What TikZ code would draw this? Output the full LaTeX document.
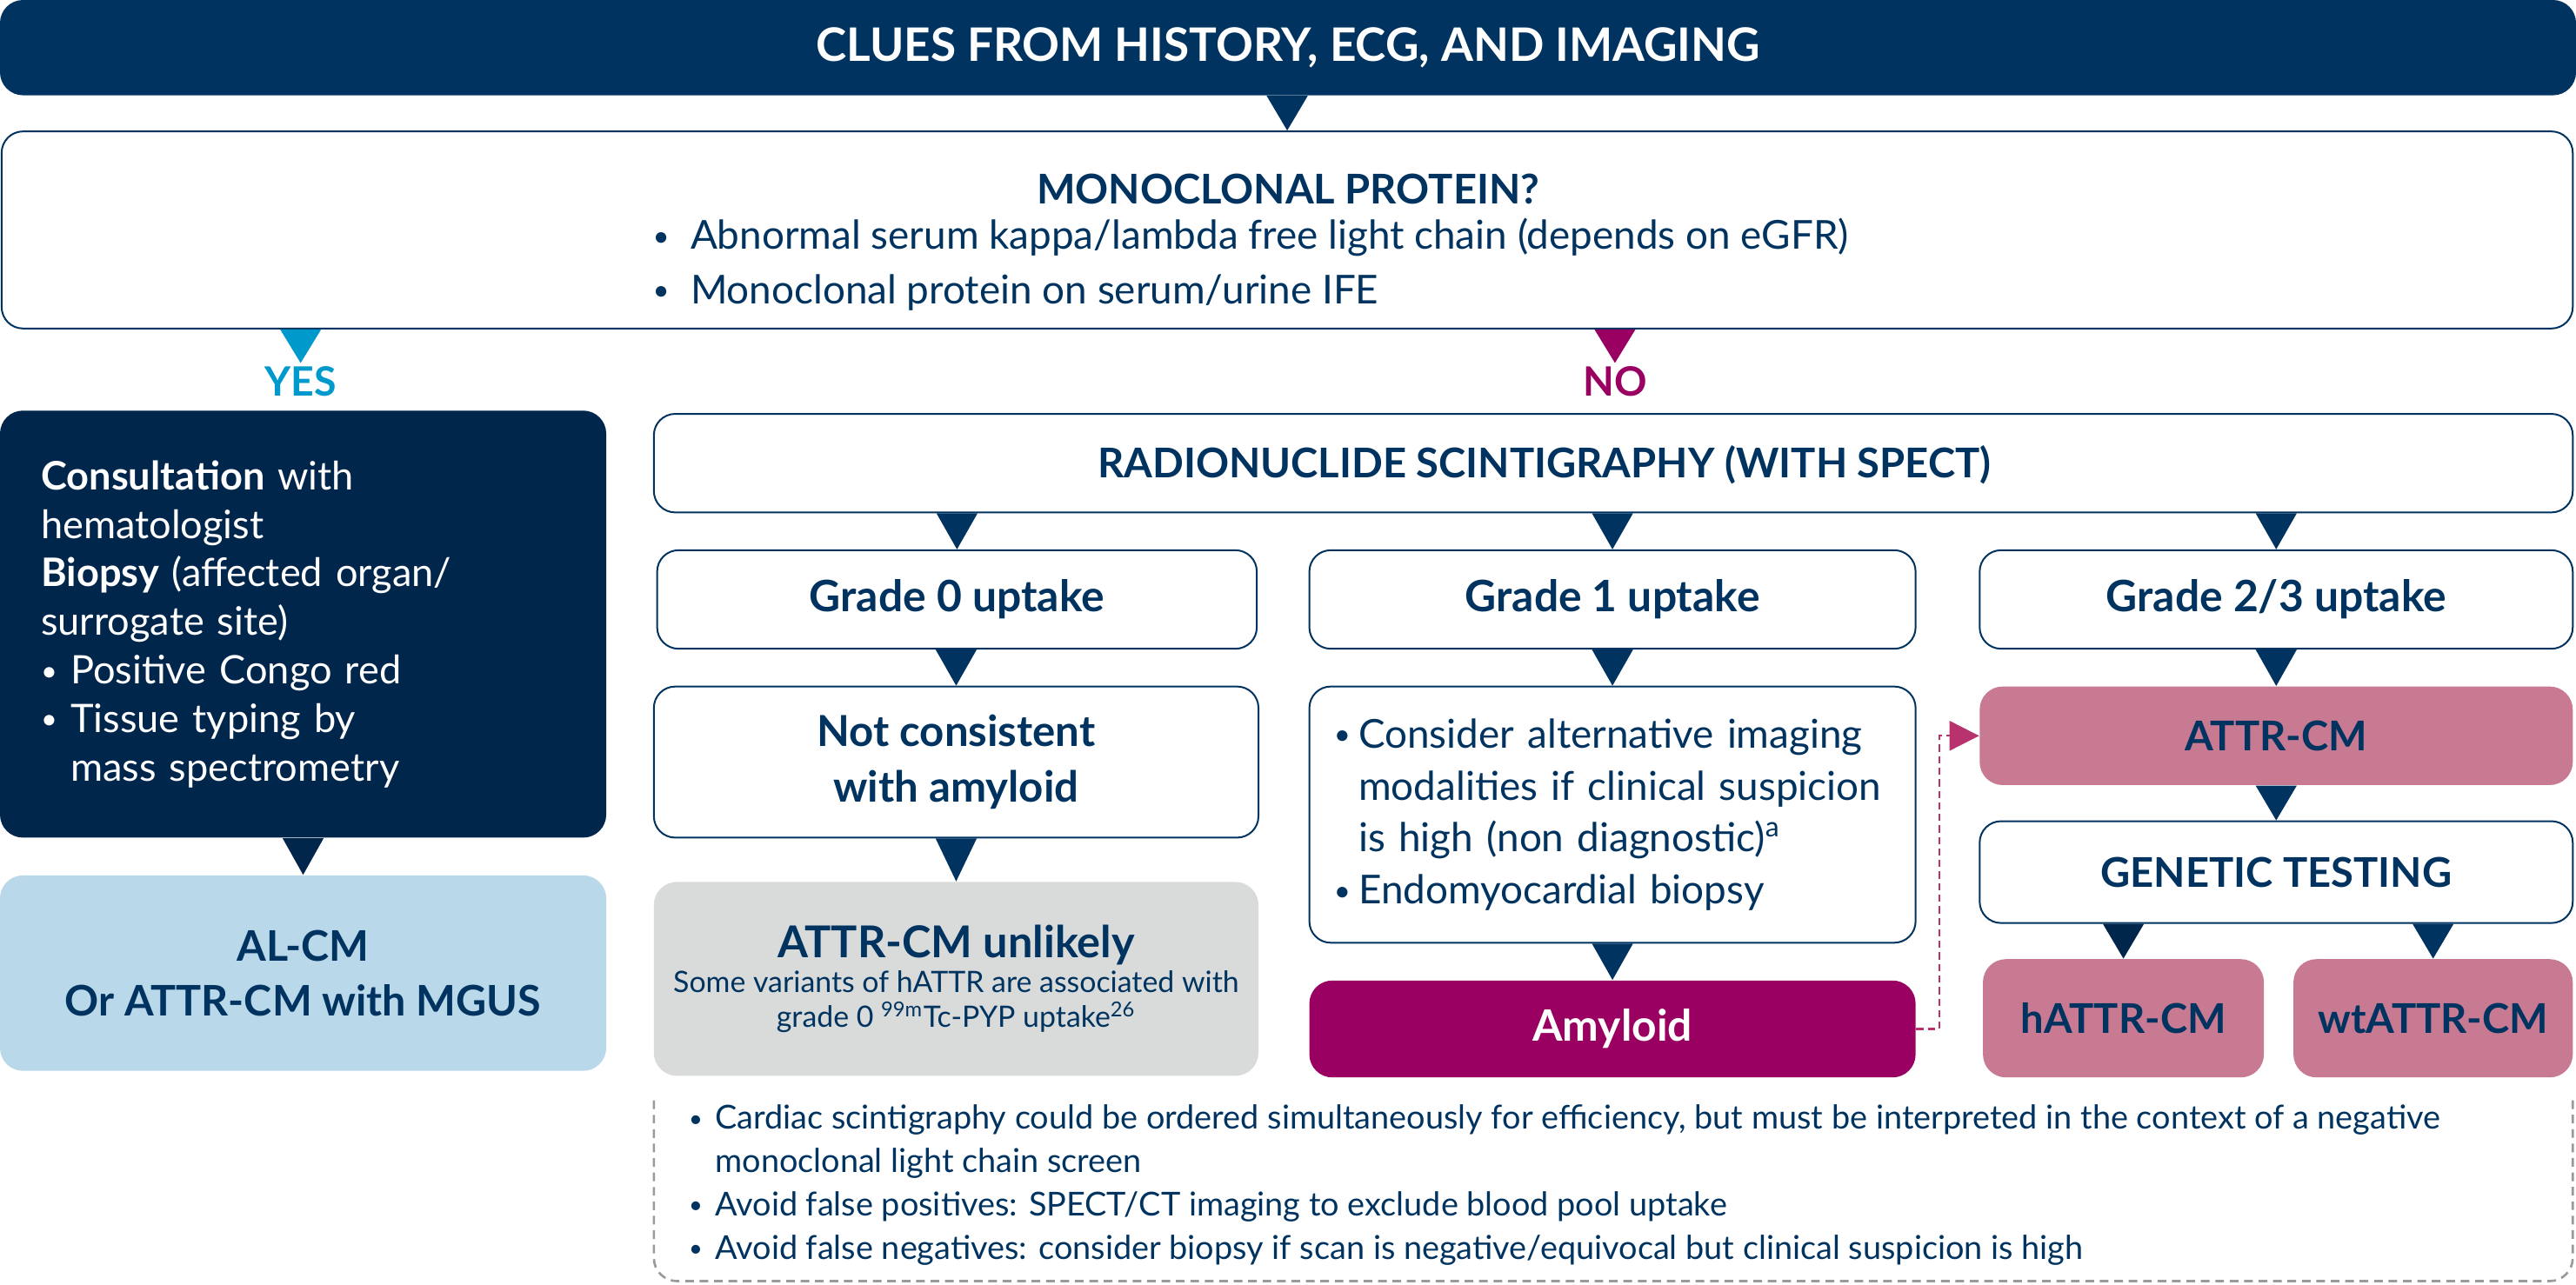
\documentclass[tikz,border=0pt]{standalone}
\usepackage{fontspec}
\setmainfont{Lato}
\usetikzlibrary{arrows.meta,calc,positioning}

\definecolor{navy}{HTML}{00335F}
\definecolor{deepnavy}{HTML}{00264C}
\definecolor{cyanyes}{HTML}{0099CC}
\definecolor{plum}{HTML}{990061}
\definecolor{berry}{HTML}{B8326E}
\definecolor{rose}{HTML}{C77A92}
\definecolor{skyb}{HTML}{B9D8EA}
\definecolor{ash}{HTML}{D9DADA}
\definecolor{dashgray}{HTML}{9A9A9A}

\newcommand{\itm}[1][0.36cm]{\makebox[#1][l]{\raisebox{0.15ex}{\scalebox{0.72}{\textbullet}}}}
\newcommand{\droptip}[3][navy]{\fill[#1] ($(#2.south -| #3.north)+(-0.25,0)$) -- ($(#2.south -| #3.north)+(0.25,0)$) -- (#3.north) -- cycle;}

\begin{document}
\begin{tikzpicture}[
    box/.style={draw=navy, line width=0.6pt, fill=white, rounded corners=0.26cm, inner sep=0pt},
    slab/.style={rounded corners=0.28cm, inner sep=0pt},
    head/.style={text=navy, font=\bfseries\fontsize{14.2}{17}\selectfont},
    body/.style={text=navy, align=left, inner sep=0pt, font=\fontsize{13.8}{18.8}\selectfont},
    grade/.style={box, minimum height=1.2cm, text=navy, font=\bfseries\fontsize{15}{18}\selectfont},
    answer/.style={anchor=north, inner sep=1pt, font=\bfseries\fontsize{14}{16}\selectfont},
    note/.style={draw=dashgray, line width=0.8pt, rounded corners=0.28cm, dash pattern=on 3pt off 2pt}
]
    \useasboundingbox (0,0) rectangle (31.36,-15.64);

    \node[slab, fill=navy, text=white, font=\bfseries\fontsize{16}{19}\selectfont, minimum width=31.36cm, minimum height=1.16cm] (hist) at (15.68,-0.58) {CLUES FROM HISTORY, ECG, AND IMAGING};

    \node[box, minimum width=31.3cm, minimum height=2.4cm] (mono) at (15.67,-2.8) {};
    \node[head] (monohead) at (15.68,-2.3) {MONOCLONAL PROTEIN?};
    \node[body, anchor=west] (monolist) at (7.94,-3.22) {\itm[0.46cm]Abnormal serum kappa/lambda free light chain (depends on eGFR)\\ \itm[0.46cm]Monoclonal protein on serum/urine IFE};

    \node[answer, text=cyanyes] (yes) at (3.66,-4.42) {YES};
    \node[answer, text=plum] (no) at (19.66,-4.42) {NO};

    \node[slab, fill=deepnavy, text=white, minimum width=7.38cm, minimum height=5.2cm, text width=6.38cm, align=left, font=\fontsize{13.6}{16.8}\selectfont] (consult) at (3.69,-7.6) {\textbf{Consultation} with\\ hematologist\\ \textbf{Biopsy} (affected organ/\\ surrogate site)\\ \itm Positive Congo red\\ \itm Tissue typing by\\ \hspace*{0.36cm}mass spectrometry\\[-0.15cm]};
    \node[slab, fill=skyb, text=navy, align=center, minimum width=7.38cm, minimum height=2.38cm, font=\bfseries\fontsize{14.6}{18.8}\selectfont] (alcm) at (3.69,-11.85) {AL-CM\\ Or ATTR-CM with MGUS};

    \node[box, minimum width=23.36cm, minimum height=1.2cm] (scint) at (19.64,-5.64) {};
    \node[head] (scinttxt) at (18.8,-5.66) {RADIONUCLIDE SCINTIGRAPHY (WITH SPECT)};

    \node[grade, minimum width=7.3cm] (g0) at (11.65,-7.3) {Grade 0 uptake};
    \node[grade, minimum width=7.38cm] (g1) at (19.63,-7.3) {Grade 1 uptake};
    \node[grade, minimum width=7.22cm] (g23) at (27.71,-7.3) {Grade 2/3 uptake};

    \node[box, minimum width=7.36cm, minimum height=1.84cm, align=center, text=navy, font=\bfseries\fontsize{14.8}{19.3}\selectfont] (notc) at (11.64,-9.28) {Not consistent\\ with amyloid};
    \node[box, body, minimum width=7.38cm, minimum height=3.12cm, text width=6.78cm, font=\fontsize{13.8}{18}\selectfont] (alt) at (19.63,-9.92) {\itm[0.3cm]Consider alternative imaging\\ \hspace*{0.3cm}modalities if clinical suspicion\\ \hspace*{0.3cm}is high (non diagnostic)\textsuperscript{a}\\ \itm[0.3cm]Endomyocardial biopsy};
    \node[slab, fill=rose, head, minimum width=7.22cm, minimum height=1.2cm] (attr) at (27.71,-8.96) {ATTR-CM};

    \node[slab, fill=ash, text=navy, align=center, minimum width=7.36cm, minimum height=2.36cm] (unl) at (11.64,-11.92) {{\bfseries\fontsize{15.2}{15.3}\selectfont ATTR-CM unlikely}\\ \fontsize{10.2}{10.8}\selectfont Some variants of hATTR are associated with\\ \fontsize{10.2}{10.8}\selectfont grade 0 \textsuperscript{99m}Tc-PYP uptake\textsuperscript{26}};
    \node[slab, fill=plum, text=white, font=\bfseries\fontsize{15}{18}\selectfont, minimum width=7.38cm, minimum height=1.18cm] (amy) at (19.63,-12.53) {Amyloid};
    \node[grade, head, minimum width=7.22cm, minimum height=1.24cm] (gen) at (27.71,-10.62) {GENETIC TESTING};
    \node[slab, fill=rose, head, minimum width=3.42cm, minimum height=1.44cm] (hattr) at (25.85,-12.4) {hATTR-CM};
    \node[slab, fill=rose, head, minimum width=3.4cm, minimum height=1.44cm] (wtattr) at (29.62,-12.4) {wtATTR-CM};

    \droptip{hist}{mono}
    \droptip[cyanyes]{mono}{yes}
    \droptip[plum]{mono}{no}
    \droptip[deepnavy]{consult}{alcm}
    \droptip{scint}{g0}
    \droptip{scint}{g1}
    \droptip{scint}{g23}
    \droptip{g0}{notc}
    \droptip{g1}{alt}
    \droptip{g23}{attr}
    \droptip{notc}{unl}
    \droptip{alt}{amy}
    \droptip{attr}{gen}
    \droptip[deepnavy]{gen}{hattr}
    \droptip{gen}{wtattr}

    \draw[berry, line width=0.7pt, dash pattern=on 2.5pt off 1.5pt, -{Triangle[length=0.36cm, width=0.36cm]}] (amy.east) -- ++(0.28,0) |- (attr.west);

    \draw[note] (7.96,-13.4) -- (7.96,-15.6) -- (31.32,-15.6) -- (31.32,-13.4);
    \node[body, anchor=north west, font=\fontsize{11.4}{15}\selectfont] (notes) at (8.38,-13.45) {\itm[0.32cm]Cardiac scintigraphy could be ordered simultaneously for efficiency, but must be interpreted in the context of a negative\\ \hspace*{0.32cm}monoclonal light chain screen\\ \itm[0.32cm]Avoid false positives: SPECT/CT imaging to exclude blood pool uptake\\ \itm[0.32cm]Avoid false negatives: consider biopsy if scan is negative/equivocal but clinical suspicion is high};
\end{tikzpicture}
\end{document}
